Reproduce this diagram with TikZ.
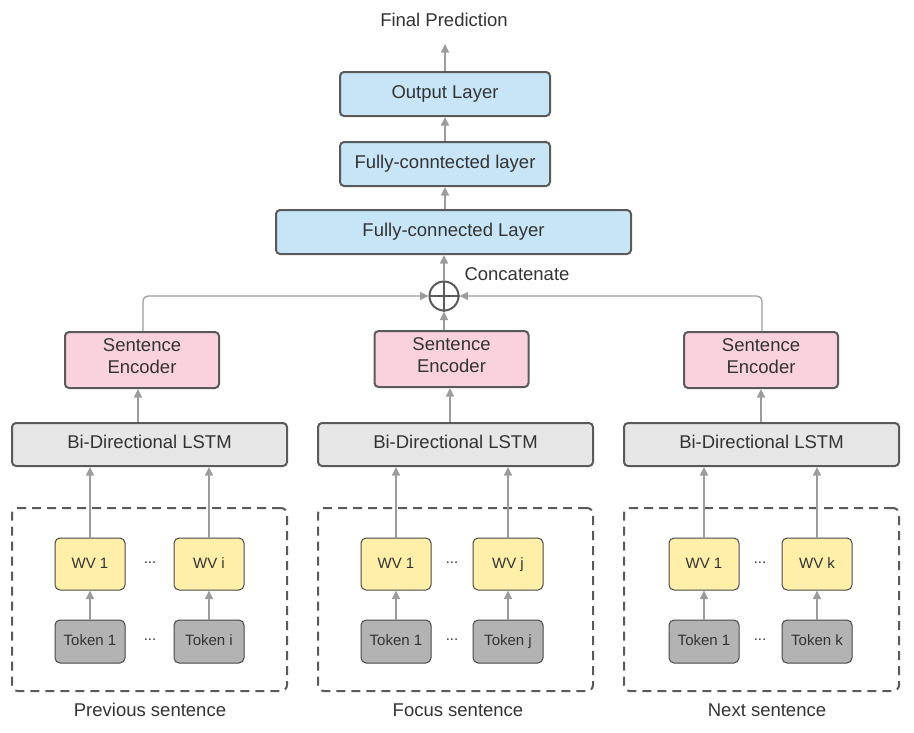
\documentclass[tikz,border=0pt]{standalone}
\usepackage{fontspec}
\setmainfont{Liberation Sans}
\usetikzlibrary{arrows.meta,calc}
\definecolor{txt}{HTML}{333333}
\definecolor{bord}{HTML}{5A5A5A}
\definecolor{arrc}{HTML}{9C9C9C}
\definecolor{blue1}{HTML}{C7E5F6}
\definecolor{pink1}{HTML}{F9D2DE}
\definecolor{lstmc}{HTML}{E6E6E6}
\definecolor{yel1}{HTML}{FFEFA8}
\definecolor{tokc}{HTML}{B3B3B3}
\begin{document}
\begin{tikzpicture}[x=1pt,y=-1pt,
  every node/.style={text=txt, font=\fontsize{18.5}{22}\selectfont},
  bigbox/.style={draw=bord, line width=2pt, rounded corners=4pt, inner sep=0pt, align=center, text height=13pt, text depth=5pt},
  bluebox/.style={bigbox, fill=blue1, minimum height=44pt},
  encbox/.style={bigbox, fill=pink1, minimum width=154pt, minimum height=56pt, text height=36pt, text depth=10pt},
  lstmbox/.style={bigbox, fill=lstmc, minimum width=275pt, minimum height=43pt},
  smallbox/.style={draw=bord!80!black, line width=1pt, rounded corners=5pt, inner sep=0pt, minimum width=70pt, font=\fontsize{15}{18}\selectfont, text height=11pt, text depth=3pt},
  wvbox/.style={smallbox, fill=yel1, minimum height=52pt},
  tokbox/.style={smallbox, fill=tokc, minimum height=43pt},
  groupbox/.style={draw=bord, line width=2pt, rounded corners=6pt, dash pattern=on 9pt off 6pt, minimum width=275pt, minimum height=183pt, inner sep=0pt},
  dotlabel/.style={font=\fontsize{15}{18}\selectfont},
  arr/.style={draw=arrc, line width=1.3pt, -{Triangle[length=8.5pt,width=8pt]}}
]
\useasboundingbox (0,0) rectangle (914,732);

% top stack
\node (final) at (444,20) {Final Prediction};
\coordinate (finaltip) at (445,44);
\node[bluebox, minimum width=210pt] (out) at (445,94) {Output Layer};
\node[bluebox, minimum width=210pt] (fc2) at (445,164) {Fully-conntected layer};
\node[bluebox, minimum width=355pt] (fc1) at (453.5,232) {Fully-connected Layer};
\node[circle, draw=bord, line width=2pt, minimum size=29pt, inner sep=0pt] (cat) at (444,296) {};
\draw[bord, line width=2pt] (cat.north) -- (cat.south) (cat.west) -- (cat.east);
\node[anchor=west] (catlab) at (461,274) {Concatenate};

% encoders
\node[encbox] (enc1) at (142,360) {Sentence\\Encoder};
\node[encbox] (enc2) at (451.5,359) {Sentence\\Encoder};
\node[encbox] (enc3) at (761,360) {Sentence\\Encoder};

% LSTMs
\node[lstmbox] (lstm1) at (149.5,444.5) {Bi-Directional LSTM};
\node[lstmbox] (lstm2) at (455.5,444.5) {Bi-Directional LSTM};
\node[lstmbox] (lstm3) at (761.5,444.5) {Bi-Directional LSTM};

% groups
\node[groupbox] (g1) at (149.5,599.5) {};
\node[groupbox] (g2) at (455.5,599.5) {};
\node[groupbox] (g3) at (761.5,599.5) {};
\node (l1) at (150,710) {Previous sentence};
\node (l2) at (458,710) {Focus sentence};
\node (l3) at (767,710) {Next sentence};

% word vectors and tokens
\node[wvbox] (wa1) at (90,564) {WV 1};
\node[wvbox] (wa2) at (209,564) {WV i};
\node[wvbox] (wb1) at (396,564) {WV 1};
\node[wvbox] (wb2) at (508,564) {WV j};
\node[wvbox] (wc1) at (704,564) {WV 1};
\node[wvbox] (wc2) at (817,564) {WV k};
\node[tokbox] (ta1) at (90,641.5) {Token 1};
\node[tokbox] (ta2) at (209,641.5) {Token i};
\node[tokbox] (tb1) at (396,641.5) {Token 1};
\node[tokbox] (tb2) at (508,641.5) {Token j};
\node[tokbox] (tc1) at (704,641.5) {Token 1};
\node[tokbox] (tc2) at (817,641.5) {Token k};
\node[dotlabel] (da1) at (150,563) {...};
\node[dotlabel] (da2) at (150,640) {...};
\node[dotlabel] (db1) at (452,563) {...};
\node[dotlabel] (db2) at (452,640) {...};
\node[dotlabel] (dc1) at (760,563) {...};
\node[dotlabel] (dc2) at (760,640) {...};

% connectors top
\draw[arr] (out.north) -- (finaltip);
\draw[arr] (fc2.north) -- (out.south);
\draw[arr] (fc1.north -| fc2.south) -- (fc2.south);
\draw[arr] (cat.north) -- (cat.north |- fc1.south);
\draw[arr] (cat.south |- enc2.north) -- (cat.south);
\draw[arr, rounded corners=5pt] ([xshift=1pt]enc1.north) |- (cat.west);
\draw[arr, rounded corners=5pt] ([xshift=1pt]enc3.north) |- (cat.east);

% LSTM -> encoder
\draw[arr] ([xshift=-4pt]enc1.south |- lstm1.north) -- ([xshift=-4pt]enc1.south);
\draw[arr] ([xshift=-1.5pt]enc2.south |- lstm2.north) -- ([xshift=-1.5pt]enc2.south);
\draw[arr] (enc3.south |- lstm3.north) -- (enc3.south);

% WV -> LSTM, token -> WV
\foreach \w/\t/\l in {wa1/ta1/lstm1, wa2/ta2/lstm1, wb1/tb1/lstm2, wb2/tb2/lstm2, wc1/tc1/lstm3, wc2/tc2/lstm3}{
  \draw[arr] (\w.north) -- (\w.north |- \l.south);
  \draw[arr] (\t.north) -- (\w.south);
}
\end{tikzpicture}
\end{document}
